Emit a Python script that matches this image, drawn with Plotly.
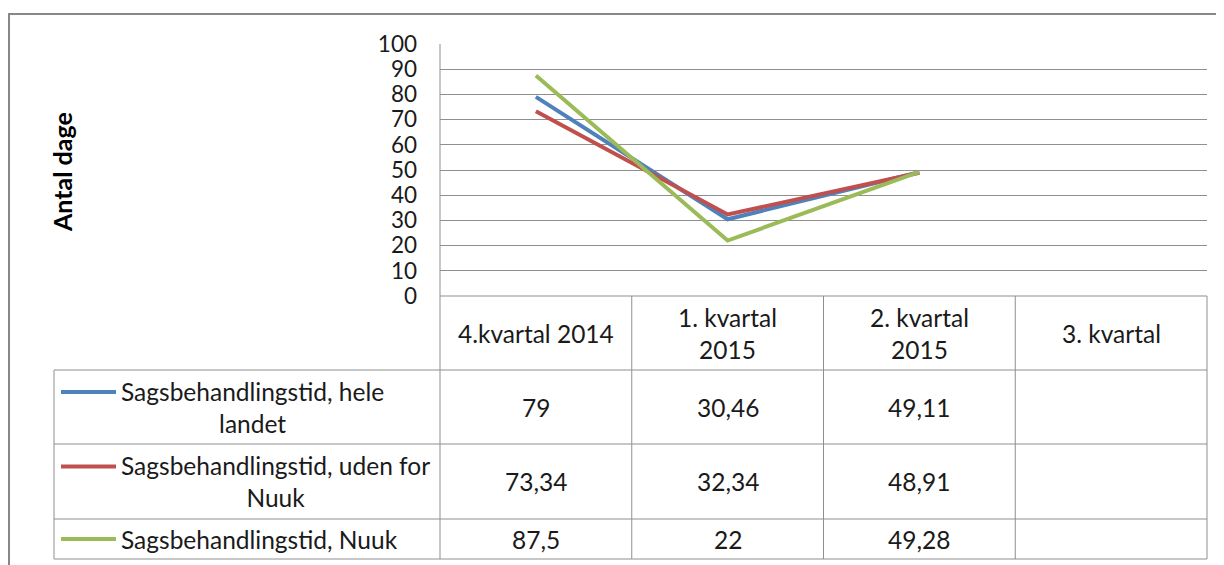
import plotly.graph_objects as go

categories = ["4.kvartal 2014", "1. kvartal<br>2015", "2. kvartal<br>2015", "3. kvartal"]
series_names = ["Sagsbehandlingstid, hele<br>landet",
                "Sagsbehandlingstid, uden for<br>Nuuk",
                "Sagsbehandlingstid, Nuuk"]
hele_landet = [79, 30.46, 49.11, None]
uden_for_nuuk = [73.34, 32.34, 48.91, None]
nuuk = [87.5, 22, 49.28, None]
series_values = [hele_landet, uden_for_nuuk, nuuk]
colors = ["#4F81BD", "#C0504D", "#9BBB59"]
y_ticks = list(range(0, 101, 10))
y_title = "Antal dage"

# page offset (browser body margin)
OFF = 8
W, H = 1224 - OFF, 565 - OFF
# layout in page pixels
L, R, T, B = 440, 1207, 44, 296
FONT = "Lato, 'Open Sans', sans-serif"
GRID = "#8F8F8F"


def px(x):
    return (x - L) / (R - L)


def py(y):
    return (B - y) / (B - T)


def fmt(v):
    if v is None:
        return ""
    return f"{v:g}".replace(".", ",")


fig = go.Figure()
for name, vals, col in zip(series_names, series_values, colors):
    fig.add_trace(go.Scatter(x=categories, y=vals, mode="lines", name=name.replace("<br>", " "),
                             line=dict(color=col, width=4), connectgaps=False,
                             showlegend=False))

shapes = []
# outer frame
shapes.append(dict(type="rect", xref="paper", yref="paper", x0=px(9), x1=px(1260),
                   y0=py(14), y1=py(620), line=dict(color="#878787", width=2)))
# table lines
row_lines = [370, 444, 519, 559]
for yy in row_lines:
    shapes.append(dict(type="line", xref="paper", yref="paper", x0=px(54), x1=px(R),
                       y0=py(yy), y1=py(yy), line=dict(color=GRID, width=1)))
shapes.append(dict(type="line", xref="paper", yref="paper", x0=px(L), x1=px(R),
                   y0=py(B), y1=py(B), line=dict(color=GRID, width=1)))
shapes.append(dict(type="line", xref="paper", yref="paper", x0=px(54), x1=px(54),
                   y0=py(370), y1=py(559), line=dict(color=GRID, width=1)))
shapes.append(dict(type="line", xref="paper", yref="paper", x0=px(L), x1=px(L),
                   y0=py(T), y1=py(559), line=dict(color=GRID, width=1)))
ncat = len(categories)
for i in range(1, ncat + 1):
    xx = L + (R - L) * i / ncat
    shapes.append(dict(type="line", xref="paper", yref="paper", x0=px(xx), x1=px(xx),
                       y0=py(B), y1=py(559), line=dict(color=GRID, width=1)))

annotations = []
TXT = dict(family=FONT, size=24.5, color="#1a1a1a")
# header
for c in categories:
    annotations.append(dict(x=c, xref="x", y=py(333), yref="paper", text=c, showarrow=False,
                            xanchor="center", yanchor="middle", align="center", font=TXT))
row_centers = [407, 481.5, 539]
line_h = 30
for name, vals, col, rc in zip(series_names, series_values, colors, row_centers):
    nlines = name.count("<br>") + 1
    first_y = rc - (nlines - 1) * line_h / 2
    shapes.append(dict(type="line", xref="paper", yref="paper", x0=px(61), x1=px(116),
                       y0=py(first_y), y1=py(first_y), line=dict(color=col, width=4)))
    annotations.append(dict(x=px(119), xref="paper", y=py(rc), yref="paper", text=name,
                            showarrow=False, xanchor="left", yanchor="middle", align="center",
                            font=TXT))
    for c, v in zip(categories, vals):
        annotations.append(dict(x=c, xref="x", y=py(rc), yref="paper", text=fmt(v),
                                showarrow=False, xanchor="center", yanchor="middle", font=TXT))
# y title
annotations.append(dict(x=px(62), xref="paper", y=py(172), yref="paper", text=f"<b>{y_title}</b>",
                        textangle=-90, showarrow=False, xanchor="center", yanchor="middle",
                        font=dict(family=FONT, size=25, color="#000000")))

fig.update_layout(
    width=W, height=H,
    margin=dict(l=L - OFF, r=W - (R - OFF), t=T - OFF, b=H - (B - OFF), pad=0),
    paper_bgcolor="white", plot_bgcolor="white",
    shapes=shapes, annotations=annotations, showlegend=False,
    xaxis=dict(type="category", range=[-0.5, ncat - 0.5], showticklabels=False, showgrid=False,
               zeroline=False, showline=False, ticks=""),
    yaxis=dict(range=[0, 100], tickvals=y_ticks, ticktext=[str(t) for t in y_ticks],
               showgrid=True, gridcolor=GRID, gridwidth=1, zeroline=False, showline=False,
               ticks="", ticklabelstandoff=22,
               tickfont=dict(family=FONT, size=22.5, color="#1a1a1a")),
)

fig.write_html("out.html")
